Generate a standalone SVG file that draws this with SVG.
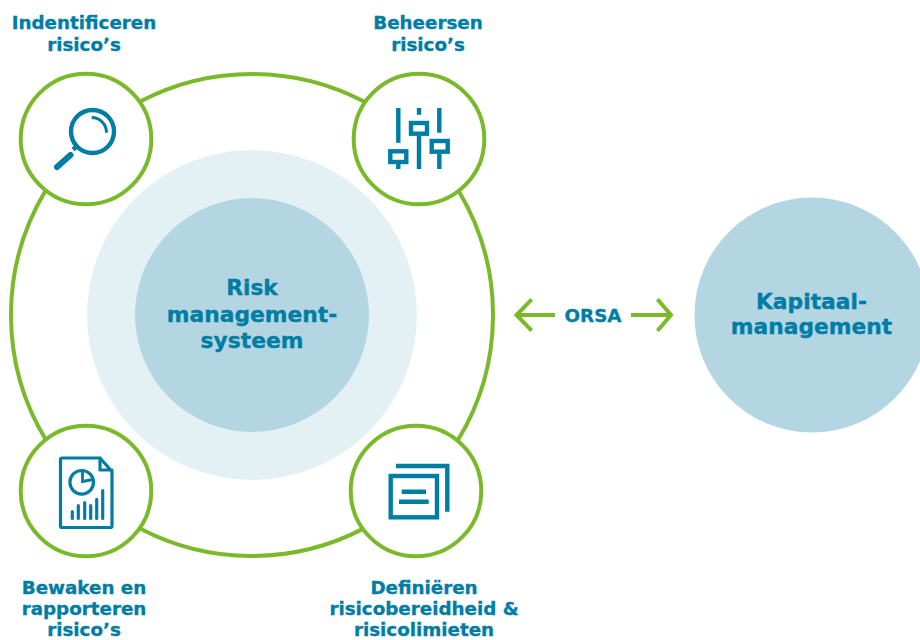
<svg xmlns="http://www.w3.org/2000/svg" width="920" height="640" viewBox="0 0 920 640">
<style>
text{font-family:"DejaVu Sans",Verdana,sans-serif;font-weight:700;fill:#007da5;text-anchor:middle;stroke:#007da5;stroke-width:.35}
.s{font-size:18.3px}
.l{font-size:21.8px}
.o{font-size:18.3px}
.node{fill:#fff;stroke:#7ab929;stroke-width:4}
.edge{fill:none;stroke:#7ab929;stroke-width:4}
.i{fill:none;stroke:#007da5;stroke-width:4.4}
.r{stroke-width:3.2;stroke-linecap:round;stroke-linejoin:round}
</style>
<rect width="920" height="640" fill="#fff"/>
<g id="connectors">
<path class="edge" d="M140 101.6A241 241 0 0 1 364 101.6"/>
<path class="edge" d="M458.7 191A241 241 0 0 1 457.4 441"/>
<path class="edge" d="M362 529.4A241 241 0 0 1 140 528.4"/>
<path class="edge" d="M46.6 441A241 241 0 0 1 45.3 191"/>
<path class="edge" d="M555 315H518M531.7 299.3L516.5 315L531.7 330.7"/>
<path class="edge" d="M631 315H670M657.5 299.3L671 315L657.5 330.7"/>
</g>
<g id="risk-management">
<circle cx="252" cy="315" r="165" fill="#e3f1f5"/>
<circle cx="252" cy="315" r="117" fill="#b3d6e2"/>
<text class="l" x="252" y="295">Risk</text>
<text class="l" x="252" y="322">management-</text>
<text class="l" x="252" y="348">systeem</text>
</g>
<g id="kapitaal">
<circle cx="812" cy="315" r="117.500" fill="#b3d6e2"/>
<text class="l" x="811.500" y="309">Kapitaal-</text>
<text class="l" x="811.500" y="334">management</text>
</g>
<g id="orsa"><text class="o" x="593" y="322">ORSA</text></g>
<g id="identificeren">
<circle class="node" cx="86" cy="139" r="65.300"/>
<circle class="i" cx="92.500" cy="131.500" r="21.500"/>
<path class="i" d="M91.700 117.500A15 15 0 0 1 106.500 132.700" style="stroke-width:3"/>
<path class="i" d="M73 149.500L76 147"/>
<path class="i" d="M57 167L70.500 155" style="stroke-width:6;stroke-linecap:round"/>
<text class="s" x="84" y="29">Indentificeren</text>
<text class="s" x="84" y="51">risico’s</text>
</g>
<g id="beheersen">
<circle class="node" cx="419" cy="139" r="65.300"/>
<path class="i" d="M398.300 108V142.700M398.300 164V169M419 108V114.700M419 135.700V169M439.300 108V132.700M439.300 153.700V169"/>
<rect class="i" x="390.300" y="151.300" width="16" height="10.700"/>
<rect class="i" x="411" y="123" width="16" height="10.700"/>
<rect class="i" x="431.700" y="141" width="16" height="10.700"/>
<text class="s" x="428" y="29">Beheersen</text>
<text class="s" x="428" y="51">risico’s</text>
</g>
<g id="bewaken">
<circle class="node" cx="86" cy="491" r="65.300"/>
<path class="i r" d="M100 458H62Q60.500 458 60.500 459.500V526Q60.500 527.500 62 527.500H110.500Q112 527.500 112 526V471.500L100 458V470H112"/>
<circle class="i" cx="81.700" cy="482.300" r="11.800" style="stroke-width:3.200"/>
<path class="i" d="M82.500 472V481.500L93 479.500" style="stroke-width:2.800"/>
<path class="i r" d="M72.300 518.500V511.700M78.300 518.500V505.700M84.700 518.500V502.700M90.700 518.500V505.700M96.700 518.500V499.300M102.700 518.500V490.700"/>
<text class="s" x="84" y="594">Bewaken en</text>
<text class="s" x="84" y="615">rapporteren</text>
<text class="s" x="84" y="635.500">risico’s</text>
</g>
<g id="definieren">
<circle class="node" cx="416" cy="491" r="65.300"/>
<rect class="i" x="390.700" y="476" width="46.300" height="41.300"/>
<path class="i" d="M396 466H447.300V511.700M401.700 491.700H426M399 501.700H428.700"/>
<text class="s" x="424" y="594">Definiëren</text>
<text class="s" x="424" y="615">risicobereidheid &amp;</text>
<text class="s" x="424" y="635.500">risicolimieten</text>
</g>
</svg>
